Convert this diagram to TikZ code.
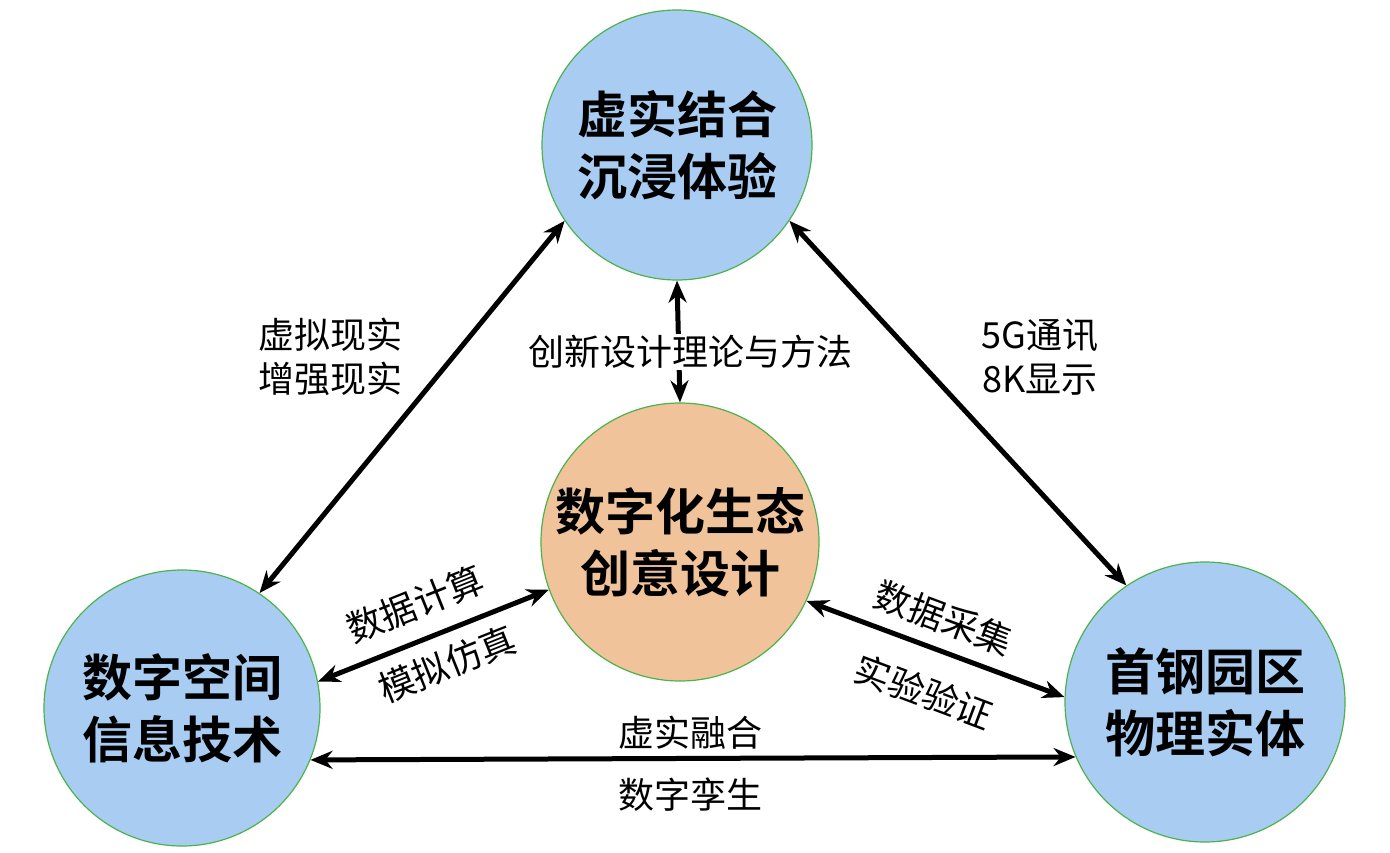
\documentclass[tikz,border=0pt]{standalone}
\usepackage{fontspec}
\setmainfont{Noto Sans CJK SC}
\newfontfamily\cjkb{Noto Sans CJK SC Bold}
\usetikzlibrary{arrows.meta}
\begin{document}
\begin{tikzpicture}[x=1pt,y=-1pt,
  circ/.style={circle,draw=green!40!gray,line width=1.2pt,minimum size=#1,inner sep=0pt,align=center,font=\cjkb\fontsize{50}{62}\selectfont},
  bidir/.style={{Stealth[length=22pt,width=18pt]}-{Stealth[length=22pt,width=18pt]},line width=5pt},
  lab/.style={font=\fontsize{36}{44}\selectfont,align=center,inner sep=1pt}]
\useasboundingbox (0,0) rectangle (1390,852);
\definecolor{cb}{HTML}{A9CDF2}
\definecolor{co}{HTML}{F0C39A}
\node[circ=270pt,fill=cb] (top) at (677,145) {虚实结合\\沉浸体验};
\node[circ=278pt,fill=co] (mid) at (680,542) {数字化生态\\创意设计};
\node[circ=276pt,fill=cb] (left) at (182,708) {数字空间\\信息技术};
\node[circ=280pt,fill=cb] (right) at (1205,702) {首钢园区\\物理实体};
\draw[bidir] (top.214) -- (left.56);
\draw[bidir] (top.326) -- (right.124);
\draw[bidir] (top.270) -- (mid.90);
\draw[bidir] (mid.200) -- (left.11);
\draw[bidir] (mid.335) -- (right.178);
\draw[bidir] (left.-22) -- (right.203);
\node[lab,fill=white] (t1) at (690,352) {创新设计理论与方法};
\node[lab] (t2) at (330,357) {虚拟现实\\增强现实};
\node[lab] (t3) at (1040,357) {5G通讯\\8K显示};
\node[lab,rotate=21.8] (t4) at (415,604) {数据计算};
\node[lab,rotate=21.8] (t5) at (447,664) {模拟仿真};
\node[lab,rotate=-20.6] (t6) at (944,618) {数据采集};
\node[lab,rotate=-20.6] (t7) at (924,692) {实验验证};
\node[lab] (t8) at (690,733) {虚实融合};
\node[lab] (t9) at (690,795) {数字孪生};
\end{tikzpicture}
\end{document}
